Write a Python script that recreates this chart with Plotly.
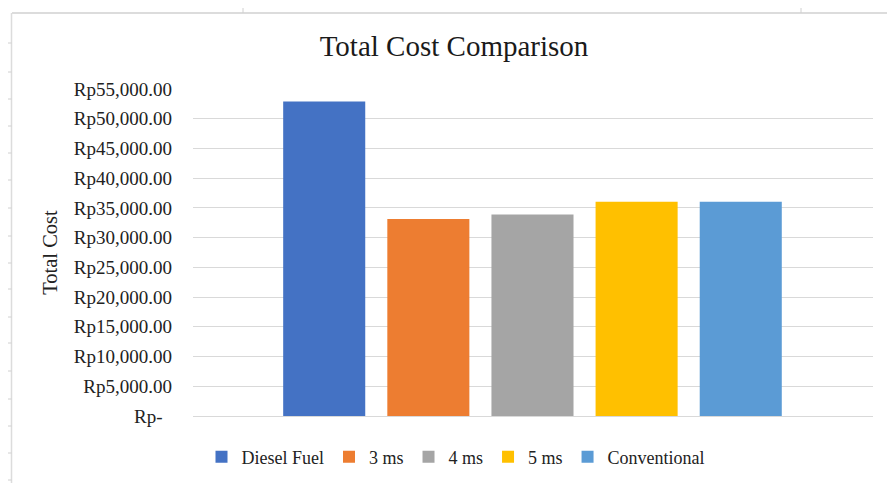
import plotly.graph_objects as go

# ---- data ----
series_names = ["Diesel Fuel", "3 ms", "4 ms", "5 ms", "Conventional"]
total_cost = [52900, 33150, 33900, 36050, 36050]
colors = ["#4472C4", "#ED7D31", "#A5A5A5", "#FFC000", "#5B9BD5"]
tick_values = [0, 5000, 10000, 15000, 20000, 25000, 30000, 35000, 40000, 45000, 50000, 55000]
tick_labels = ["Rp-\u00a0\u00a0" if v == 0 else f"Rp{v:,.2f}" for v in tick_values]

W, H = 887, 483
L, R, T, B = 193, 14, 89, 67
PW, PH = W - L - R, H - T - B

def px_x(x):
    return (x - L) / PW

def px_y(y):
    return (H - B - y) / PH

FONT = "Liberation Serif"
fig = go.Figure()
for name, val, col in zip(series_names, total_cost, colors):
    fig.add_trace(go.Bar(
        x=[name], y=[val], name=name,
        marker=dict(color=col, line=dict(width=0)),
        width=0.788,
    ))

grid = "#d9d9d9"
shapes = []
# spreadsheet frame lines
shapes.append(dict(type="line", xref="paper", yref="paper",
                   x0=px_x(12), x1=px_x(W), y0=px_y(13), y1=px_y(13),
                   line=dict(color="#dcdcdc", width=2)))
shapes.append(dict(type="line", xref="paper", yref="paper",
                   x0=px_x(11.5), x1=px_x(11.5), y0=px_y(13), y1=px_y(H),
                   line=dict(color="#dcdcdc", width=1.5)))
for yy in [43, 72, 99, 126, 153, 180, 208, 236, 263, 289, 317, 343, 371, 399, 426, 453, 480]:
    shapes.append(dict(type="line", xref="paper", yref="paper",
                       x0=px_x(8), x1=px_x(11.5), y0=px_y(yy), y1=px_y(yy),
                       line=dict(color="#d0d0d0", width=1)))
for xx in [243, 801]:
    shapes.append(dict(type="line", xref="paper", yref="paper",
                       x0=px_x(xx), x1=px_x(xx), y0=px_y(8), y1=px_y(13),
                       line=dict(color="#d0d0d0", width=1)))

fig.update_layout(
    template="none",
    width=W, height=H,
    margin=dict(l=L, r=R, t=T, b=B, autoexpand=False),
    paper_bgcolor="white", plot_bgcolor="white",
    barmode="overlay",
    title=dict(text="Total Cost Comparison", x=454 / W, xanchor="center",
               y=1 - 46 / H, yanchor="middle", yref="container",
               font=dict(family=FONT, size=29, color="#1a1a1a")),
    font=dict(family=FONT, size=18, color="#222222"),
    showlegend=True,
    legend=dict(orientation="h", x=px_x(456), xanchor="center",
                y=px_y(457), yanchor="middle",
                font=dict(family=FONT, size=18, color="#222222"),
                bgcolor="rgba(0,0,0,0)", itemwidth=30),
    xaxis=dict(type="category", categoryorder="array", categoryarray=series_names,
               range=[-1.26, 5.27], showticklabels=False, showgrid=False,
               zeroline=False, showline=False, ticks=""),
    yaxis=dict(range=[0, 55000], tickvals=tick_values, ticktext=tick_labels,
               showgrid=True, gridcolor=grid, gridwidth=1.3,
               zeroline=True, zerolinecolor=grid, zerolinewidth=1.3,
               showline=False, ticks="", ticklabelstandoff=20,
               tickfont=dict(family=FONT, size=19, color="#222222"),
               title=dict(text="Total Cost", standoff=10,
                          font=dict(family=FONT, size=20.5, color="#222222"))),
    shapes=shapes,
)

fig.write_html("out.html")
